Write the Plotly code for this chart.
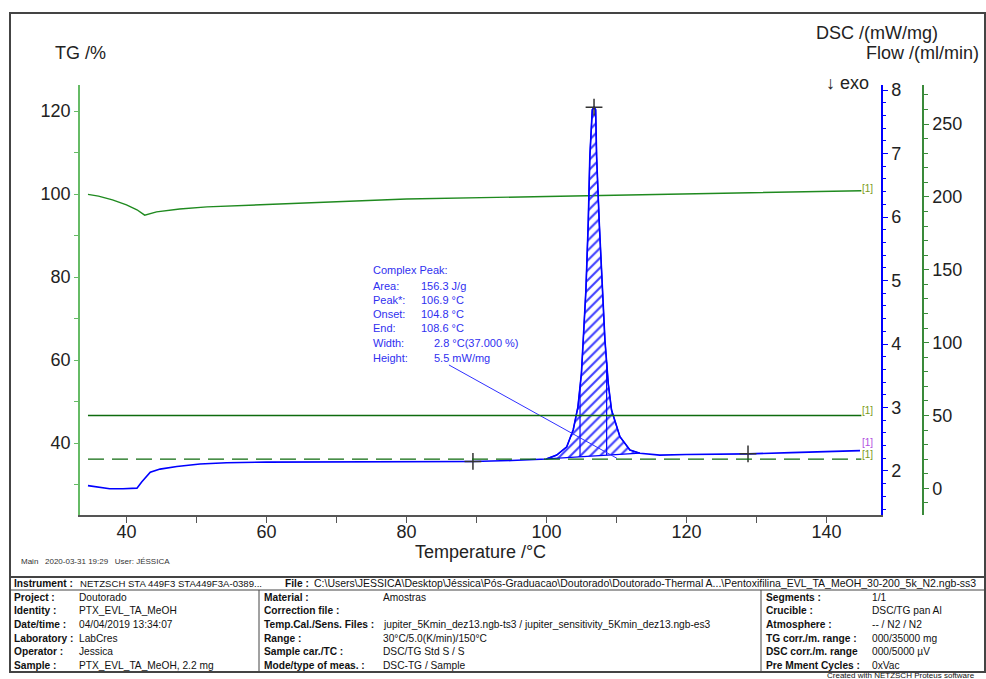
import numpy as np
import plotly.graph_objects as go

# ---------------- data ----------------
tg_T = [34.5, 36, 38, 40, 41.5, 42.6, 44.3, 47.6, 51.5, 56, 65, 80, 100, 120, 145]
tg_val = [99.9, 99.5, 98.6, 97.4, 96.2, 94.9, 95.7, 96.4, 96.9, 97.2, 97.8, 98.8, 99.4, 100.0, 100.8]

dsc_T = [34.5, 36, 37.6, 39.5, 41.5, 42.2, 42.8, 43.4, 44.8, 47.2, 50.5, 54.3, 60, 70, 79,
         89.5, 95, 100.0, 101.46, 102.9, 103.83, 104.5, 105.0, 105.26, 105.64, 105.97, 106.2,
         106.55, 106.8, 107.03, 107.17, 107.55, 108.03, 108.36, 108.83, 109.3, 110.5, 111.93,
         113.36, 116.2, 120, 128.8, 135, 140, 144.8]
dsc_val = [1.77, 1.74, 1.72, 1.72, 1.73, 1.83, 1.91, 1.98, 2.03, 2.07, 2.11, 2.13, 2.14, 2.145, 2.15,
           2.15, 2.165, 2.19, 2.25, 2.38, 2.65, 3.01, 3.54, 4.06, 4.85, 5.90, 6.95,
           7.69, 7.73, 7.69, 6.95, 5.90, 4.85, 4.06, 3.38, 2.96, 2.54, 2.33,
           2.28, 2.25, 2.26, 2.27, 2.29, 2.31, 2.32]

flow_T = [34.5, 145]
purge_flow = [50, 50]
protective_flow = [20, 20]

peak_range = [100.0, 113.36]
onset_end = [104.8, 108.6]
marker_T = [106.8, 89.5, 128.8]
marker_dsc = [7.73, 2.15, 2.27]
pointer_T = [86.07, 110.07]
pointer_dsc = [3.67, 2.20]

x_range = [33.36, 147.8]

peak_labels = ["Complex Peak:", "Area:", "Peak*:", "Onset:", "End:", "Width:", "Height:"]
peak_values = ["", "156.3 J/g", "106.9 °C", "104.8 °C", "108.6 °C", "2.8 °C(37.000 %)", "5.5 mW/mg"]

left_labels = ["Project :", "Identity :", "Date/time :", "Laboratory :", "Operator :", "Sample :"]
left_values = ["Doutorado", "PTX_EVL_TA_MeOH", "04/04/2019 13:34:07", "LabCres", "Jessica",
               "PTX_EVL_TA_MeOH, 2.2 mg"]
mid_labels = ["Material :", "Correction file :", "Temp.Cal./Sens. Files :", "Range :",
              "Sample car./TC :", "Mode/type of meas. :"]
mid_values = ["Amostras", "", "jupiter_5Kmin_dez13.ngb-ts3 / jupiter_sensitivity_5Kmin_dez13.ngb-es3",
              "30°C/5.0(K/min)/150°C", "DSC/TG Std S / S", "DSC-TG / Sample"]
right_labels = ["Segments :", "Crucible :", "Atmosphere :", "TG corr./m. range :",
                "DSC corr./m. range", "Pre Mment Cycles :"]
right_values = ["1/1", "DSC/TG pan Al", "-- / N2 / N2", "000/35000 mg", "000/5000 µV", "0xVac"]

FONT = "Liberation Sans, Arial, sans-serif"
BLUE = "#0000ff"
TXT = "#222222"

# pixel -> paper helpers (plot area: x 80..923 paper width 843, y 85..515)
L, R, T_, B = 80, 63, 85, 164
W, H = 986, 679
PW, PH = W - L - R, H - T_ - B


def PX(x):
    return (x - L) / PW


def PY(y):
    return (H - B - y) / PH


fig = go.Figure()

# TG
fig.add_trace(go.Scatter(x=tg_T, y=tg_val, mode="lines", line=dict(color="#1f8a1f", width=1.4),
                         yaxis="y", hoverinfo="skip"))
# Flows
fig.add_trace(go.Scatter(x=flow_T, y=purge_flow, mode="lines", line=dict(color="#0e6b0e", width=1.3),
                         yaxis="y3", hoverinfo="skip"))
fig.add_trace(go.Scatter(x=flow_T, y=protective_flow, mode="lines",
                         line=dict(color="#0e6b0e", width=1.3, dash="16px,8px"),
                         yaxis="y3", hoverinfo="skip"))

# hatched peak area
dT = np.array(dsc_T)
dV = np.array(dsc_val)
m = (dT >= peak_range[0]) & (dT <= peak_range[1])
fig.add_trace(go.Scatter(x=list(dT[m]) + [dT[m][0]], y=list(dV[m]) + [dV[m][0]], mode="lines",
                         line=dict(color=BLUE, width=1.2), fill="toself",
                         fillcolor="rgba(0,0,0,0)",
                         fillpattern=dict(shape="/", fgcolor="#2a2aff", fgopacity=0.9,
                                          bgcolor="rgba(0,0,0,0)", size=7, solidity=0.3),
                         yaxis="y2", hoverinfo="skip"))
# DSC curve
fig.add_trace(go.Scatter(x=dsc_T, y=dsc_val, mode="lines", line=dict(color=BLUE, width=1.6),
                         yaxis="y2", hoverinfo="skip"))
# onset / end verticals
base_at = np.interp(onset_end, [dT[m][0], dT[m][-1]], [dV[m][0], dV[m][-1]])
curve_at = np.interp(onset_end, dT, dV)
for t, b0, c0 in zip(onset_end, base_at, curve_at):
    fig.add_trace(go.Scatter(x=[t, t], y=[b0, c0], mode="lines", line=dict(color=BLUE, width=1.2),
                             yaxis="y2", hoverinfo="skip"))
# pointer line
fig.add_trace(go.Scatter(x=pointer_T, y=pointer_dsc, mode="lines", line=dict(color="#3030ff", width=1),
                         yaxis="y2", hoverinfo="skip"))
# markers
fig.add_trace(go.Scatter(x=marker_T, y=marker_dsc, mode="markers",
                         marker=dict(symbol="cross-thin", size=12, line=dict(color="#333333", width=1.5)),
                         yaxis="y2", hoverinfo="skip"))

ann = []
# axis titles
ann.append(dict(text="TG /%", x=PX(53), y=PY(53), xanchor="left", yanchor="middle"))
ann.append(dict(text="DSC /(mW/mg)", x=PX(940), y=PY(33), xanchor="right", yanchor="middle"))
ann.append(dict(text="Flow /(ml/min)", x=PX(981), y=PY(53), xanchor="right", yanchor="middle"))
ann.append(dict(text="↓ exo", x=PX(824), y=PY(83), xanchor="left", yanchor="middle"))
for a in ann:
    a.update(xref="paper", yref="paper", showarrow=False, font=dict(family=FONT, size=18, color=TXT))

# [1] labels
for yy, col in [(188, "#7a9a20"), (410, "#7a9a20"), (442, "#b050e0"), (454, "#7a9a20")]:
    ann.append(dict(text="[1]", x=PX(860), y=PY(yy), xref="paper", yref="paper", xanchor="left",
                    yanchor="middle", showarrow=False, font=dict(family=FONT, size=10, color=col)))

# peak annotation text
peak_y = [270, 285.5, 299.5, 314, 328, 343, 357.5]
for i, (lab, val) in enumerate(zip(peak_labels, peak_values)):
    ann.append(dict(text=lab, x=PX(371), y=PY(peak_y[i]), xref="paper", yref="paper", xanchor="left",
                    yanchor="middle", showarrow=False, font=dict(family=FONT, size=11, color="#3030f0")))
    if val:
        vx = 432 if i >= 5 else 419
        ann.append(dict(text=val, x=PX(vx), y=PY(peak_y[i]), xref="paper", yref="paper", xanchor="left",
                        yanchor="middle", showarrow=False, font=dict(family=FONT, size=11, color="#3030f0")))

# footer line
ann.append(dict(text="Main   2020-03-31 19:29   User: JÉSSICA", x=PX(19), y=PY(561), xref="paper",
                yref="paper", xanchor="left", yanchor="middle", showarrow=False,
                font=dict(family=FONT, size=8, color="#333")))

# table text
TF = 10.2


def tx(text, x, y, bold=False, size=TF, pad=1):
    ann.append(dict(text=("<b>%s</b>" % text) if bold else text, x=PX(x), y=PY(y), xref="paper",
                    yref="paper", xanchor="left", yanchor="middle", showarrow=False, borderpad=pad,
                    font=dict(family=FONT, size=size, color="#111")))


tx("Instrument :", 12, 583, True)
tx("NETZSCH STA 449F3 STA449F3A-0389...", 78, 583, size=9.6)
tx("File :", 283, 583, True)
tx("C:\\Users\\JESSICA\\Desktop\\Jéssica\\Pós-Graduacao\\Doutorado\\Doutorado-Thermal A...\\"
   "Pentoxifilina_EVL_TA_MeOH_30-200_5k_N2.ngb-ss3", 312, 583, size=10.5)
rows_y = [597, 610.5, 624, 638, 651.5, 665]
for i in range(6):
    tx(left_labels[i], 12, rows_y[i], True)
    tx(left_values[i], 77, rows_y[i])
    tx(mid_labels[i], 262, rows_y[i], True)
    if mid_values[i]:
        tx(mid_values[i], 381, rows_y[i])
    tx(right_labels[i], 764, rows_y[i], True)
    tx(right_values[i], 870, rows_y[i])
tx("Created with NETZSCH Proteus software", 826, 675.5, size=8, pad=0)

shapes = [
    dict(type="rect", xref="paper", yref="paper", x0=PX(10), x1=PX(985), y0=PY(13), y1=PY(577),
         line=dict(color="#444", width=2)),
    dict(type="rect", xref="paper", yref="paper", x0=PX(10), x1=PX(985), y0=PY(577), y1=PY(672),
         line=dict(color="#444", width=2)),
    dict(type="line", xref="paper", yref="paper", x0=PX(10), x1=PX(985), y0=PY(590), y1=PY(590),
         line=dict(color="#444", width=1)),
    dict(type="line", xref="paper", yref="paper", x0=PX(259), x1=PX(259), y0=PY(590), y1=PY(672),
         line=dict(color="#444", width=1)),
    dict(type="line", xref="paper", yref="paper", x0=PX(761), x1=PX(761), y0=PY(590), y1=PY(672),
         line=dict(color="#444", width=1)),
]

tickfont = dict(family=FONT, size=18, color=TXT)
xdom_end = (881 - L) / PW

fig.update_layout(
    width=W, height=H, margin=dict(l=L, r=R, t=T_, b=B),
    paper_bgcolor="white", plot_bgcolor="white", showlegend=False,
    font=dict(family=FONT),
    xaxis=dict(domain=[0, xdom_end], range=x_range, showgrid=False, zeroline=False,
               showline=True, linecolor="#555", linewidth=1.5, ticks="outside", ticklen=6,
               tickcolor="#555", tick0=0, dtick=20, tickfont=tickfont, ticklabelstandoff=-6,
               minor=dict(dtick=10, ticks="outside", ticklen=6, tickcolor="#555", showgrid=False),
               title=dict(text="Temperature /°C", font=dict(family=FONT, size=18, color=TXT), standoff=0)),
    yaxis=dict(range=[22.65, 126.27], showgrid=False, zeroline=False, showline=True,
               linecolor="#66bb66", linewidth=1.5, ticks="outside", ticklen=4, tickcolor="#66bb66",
               tick0=0, dtick=20, tickfont=tickfont,
               minor=dict(dtick=10, ticks="outside", ticklen=4, tickcolor="#66bb66", showgrid=False)),
    yaxis2=dict(range=[1.307, 8.0787], overlaying="y", side="right", anchor="x", showgrid=False,
                zeroline=False, showline=True, linecolor=BLUE, linewidth=1.5, ticks="outside",
                ticklen=5, tickcolor=BLUE, tick0=0, dtick=1, tickfont=tickfont,
                minor=dict(dtick=0.2, ticks="outside", ticklen=3, tickcolor=BLUE, showgrid=False)),
    yaxis3=dict(range=[-18.3, 276.8], overlaying="y", side="right", anchor="free", position=1.0,
                showgrid=False, zeroline=False, showline=True, linecolor="#3a8a3a", linewidth=1.5,
                ticks="outside", ticklen=5, tickcolor="#3a8a3a", tick0=0, dtick=50, tickfont=tickfont,
                minor=dict(dtick=10, ticks="outside", ticklen=4, tickcolor="#3a8a3a", showgrid=False)),
    annotations=ann, shapes=shapes,
)

fig.write_html("out.html")
